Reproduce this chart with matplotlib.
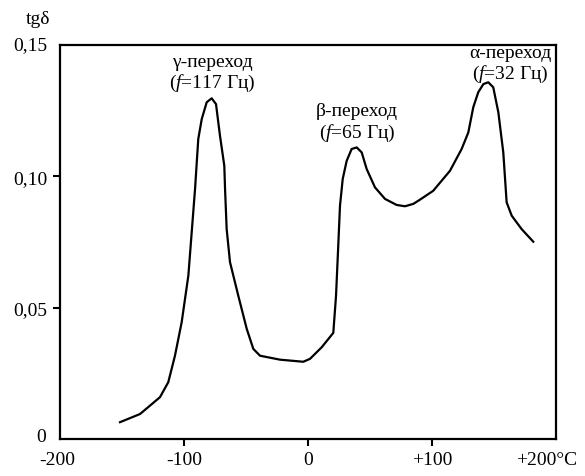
import numpy as np
import matplotlib.pyplot as plt

plt.rcParams['font.family'] = ['Liberation Serif', 'DejaVu Serif']
plt.rcParams['mathtext.fontset'] = 'custom'
plt.rcParams['mathtext.rm'] = 'Liberation Serif'
plt.rcParams['mathtext.it'] = 'Liberation Serif:italic'

# температура, °C и tg delta
temp = [-151.6, -135.5, -119.4, -112.7, -107.3, -101.9, -96.5, -93.8, -91.1,
        -88.5, -85.7, -81.7, -77.7, -74.2, -71.0, -67.5, -66.9, -65.6, -62.9,
        -56.2, -49.4, -44.1, -38.7, -22.6, -3.8, 1.6, 11.0, 20.4, 22.6, 24.4,
        25.8, 28.0, 31.2, 35.2, 39.3, 43.3, 47.3, 54.0, 62.1, 71.5, 78.2, 84.9,
        90.3, 101.0, 114.5, 123.9, 129.3, 133.3, 137.3, 141.4, 145.4, 149.4,
        153.5, 157.5, 160.2, 164.3, 172.3, 181.7]
tgd = [0.0064, 0.0095, 0.0159, 0.0216, 0.0317, 0.0444, 0.0622, 0.0787, 0.0952,
       0.1142, 0.1218, 0.1282, 0.1297, 0.1275, 0.1155, 0.1040, 0.0952, 0.0799,
       0.0673, 0.0545, 0.0419, 0.0343, 0.0317, 0.0302, 0.0294, 0.0305, 0.0349,
       0.0404, 0.0545, 0.0736, 0.0888, 0.0990, 0.1059, 0.1104, 0.1110, 0.1091,
       0.1028, 0.0958, 0.0914, 0.0891, 0.0886, 0.0895, 0.0911, 0.0945, 0.1021,
       0.1104, 0.1167, 0.1263, 0.1320, 0.1351, 0.1358, 0.1339, 0.1244, 0.1091,
       0.0901, 0.0850, 0.0799, 0.0751]

xticks = [-100, 0, 100]
xticklabels = ['-100', '0', '+100']
yticks = [0.05, 0.10]
yticklabels = ['0,05', '0,10']

# подпись перехода, частота, положение
labels = [("γ-переход", "117", -77.4, 0.1439),
          ("β-переход", "65", 39.5, 0.1249),
          ("α-переход", "32", 163, 0.1473)]

fig = plt.figure(figsize=(5.85, 4.77), dpi=100)
ax = fig.add_axes([0.1026, 0.0776, 0.8478, 0.826])
ax.plot(temp, tgd, color='black', lw=1.6, solid_joinstyle='round')

ax.set_xlim(-200, 200)
ax.set_ylim(0, 0.15)
for s in ax.spines.values():
    s.set_linewidth(1.6)

ax.set_xticks(xticks)
ax.set_xticklabels(xticklabels)
ax.set_yticks(yticks)
ax.set_yticklabels(yticklabels)
ax.tick_params(direction='out', length=5, width=1.5, labelsize=14, pad=4)

# крайние подписи без засечек
ax.annotate('-200', xy=(-200, 0), xytext=(-2, -9), textcoords='offset points',
            ha='center', va='top', fontsize=14)
ax.annotate('+200°C', xy=(200, 0), xytext=(-7, -9), textcoords='offset points',
            ha='center', va='top', fontsize=14)
ax.annotate('0', xy=(-200, 0), xytext=(-10, 2), textcoords='offset points',
            ha='right', va='center', fontsize=14)
ax.annotate('0,15', xy=(-200, 0.15), xytext=(-9, 0), textcoords='offset points',
            ha='right', va='center', fontsize=14)
ax.annotate('tgδ', xy=(-200, 0.15), xytext=(-16, 19), textcoords='offset points',
            ha='center', va='center', fontsize=14)

for name, f, x, y in labels:
    ax.text(x, y, name, ha='center', va='center', fontsize=14)
    ax.text(x, y - 0.0082, '($\\it{f}$=' + f + ' Гц)', ha='center', va='center', fontsize=14)

fig.savefig('out.png', dpi=100)
